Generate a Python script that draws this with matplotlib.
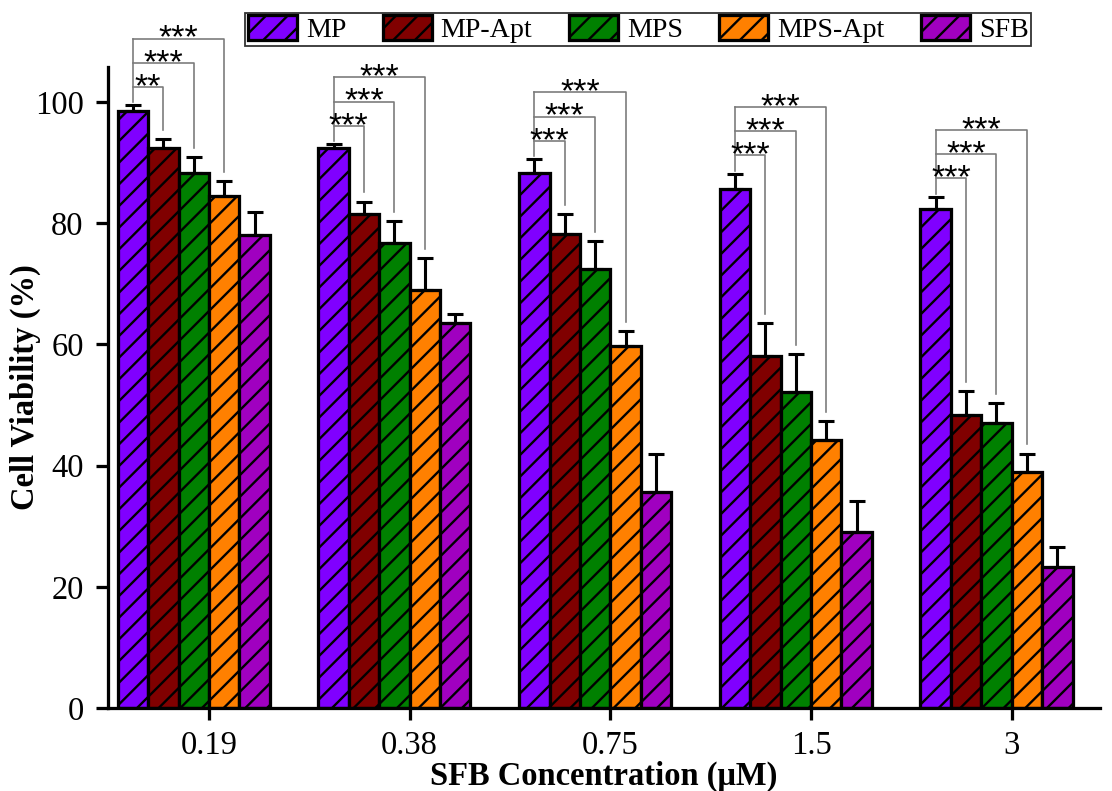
import numpy as np
import matplotlib
matplotlib.use("Agg")
import matplotlib.pyplot as plt

# Data
concentrations = ["0.19", "0.38", "0.75", "1.5", "3"]
groups = ["MP", "MP-Apt", "MPS", "MPS-Apt", "SFB"]
colors = ["#8000FF", "#800000", "#008000", "#FF8000", "#A000C0"]

mp = [98.5, 92.4, 88.3, 85.6, 82.3]
mp_apt = [92.4, 81.5, 78.2, 58.1, 48.3]
mps = [88.3, 76.7, 72.4, 52.1, 47.0]
mps_apt = [84.5, 69.0, 59.7, 44.2, 38.9]
sfb = [78.1, 63.5, 35.6, 29.0, 23.3]

mp_err = [1.0, 0.7, 2.3, 2.6, 2.1]
mp_apt_err = [1.5, 2.1, 3.3, 5.4, 4.0]
mps_err = [2.6, 3.6, 4.6, 6.3, 3.3]
mps_apt_err = [2.5, 5.3, 2.5, 3.1, 3.1]
sfb_err = [3.7, 1.5, 6.4, 5.1, 3.3]

# significance of MP vs MP-Apt / MPS / MPS-Apt for each concentration
sig_labels = [
    ["**", "***", "***"],
    ["***", "***", "***"],
    ["***", "***", "***"],
    ["***", "***", "***"],
    ["***", "***", "***"],
]

values = [mp, mp_apt, mps, mps_apt, sfb]
errors = [mp_err, mp_apt_err, mps_err, mps_apt_err, sfb_err]

DPI = 130
plt.rcParams["font.family"] = ["Liberation Serif", "DejaVu Serif"]
plt.rcParams["hatch.linewidth"] = 1.3
plt.rcParams["hatch.color"] = "black"

fig = plt.figure(figsize=(1112 / DPI, 791 / DPI), dpi=DPI)
ax = fig.add_axes([108 / 1112, 83 / 791, 992 / 1112, 641 / 791])

x = np.arange(len(concentrations))
w = 0.1515
handles = []
for j, (name, col) in enumerate(zip(groups, colors)):
    pos = x + (j - 2.5) * w
    b = ax.bar(pos, values[j], width=w, color=col, edgecolor="black",
               linewidth=1.8, hatch="//", label=name, zorder=2)
    ax.errorbar(pos, values[j], yerr=[np.zeros(len(x)), errors[j]],
                fmt="none", ecolor="black", elinewidth=1.7, capsize=4.6,
                capthick=1.7, zorder=3)
    handles.append(b)

# significance brackets
for i in range(len(x)):
    x0 = x[i] - 2.5 * w
    top0 = mp[i] + mp_err[i]
    levels = [top0 + 3 + 4 * k for k in range(3)]
    ax.plot([x0, x0], [top0 + 0.5, levels[-1]], color="#7a7a7a", lw=0.9,
            clip_on=False, zorder=4)
    for k in range(3):
        j = k + 1
        xt = x[i] + (j - 2.5) * w
        yt = values[j][i] + errors[j][i] + 1.5
        ax.plot([x0, xt, xt], [levels[k], levels[k], yt], color="#7a7a7a",
                lw=0.9, clip_on=False, zorder=4)
        ax.annotate(sig_labels[i][k], ((x0 + xt) / 2, levels[k]),
                    xytext=(0, -5), textcoords="offset points",
                    ha="center", va="baseline", fontsize=19,
                    family=["Liberation Sans", "DejaVu Sans"],
                    annotation_clip=False, zorder=5)

ax.set_xlim(-0.503, 4.44)
ax.set_ylim(0, 105.8)
ax.set_xticks(x)
ax.set_xticklabels(concentrations)
ax.set_yticks([0, 20, 40, 60, 80, 100])

for side in ["top", "right"]:
    ax.spines[side].set_visible(False)
for side in ["left", "bottom"]:
    ax.spines[side].set_linewidth(1.8)
ax.tick_params(axis="both", direction="out", length=6.5, width=1.8,
               labelsize=18)
ax.tick_params(axis="y", pad=7)
ax.tick_params(axis="x", pad=6)

ax.set_ylabel("Cell Viability (%)", fontsize=18, fontweight="bold")
ax.set_xlabel("SFB Concentration (\u03bcM)", fontsize=18, fontweight="bold")
ax.yaxis.set_label_coords(-0.068, 0.5)
ax.xaxis.set_label_coords(0.5, -0.083)

leg = fig.legend(handles=handles, loc="upper center",
                 bbox_to_anchor=(0.574, 0.984), ncol=5, fontsize=15.5,
                 frameon=True, fancybox=False, edgecolor="black",
                 handlelength=1.75, handleheight=0.95, handletextpad=0.32,
                 columnspacing=1.3, borderpad=0.1, borderaxespad=0)
leg.get_frame().set_linewidth(1.0)

fig.savefig("out.png", dpi=DPI)
